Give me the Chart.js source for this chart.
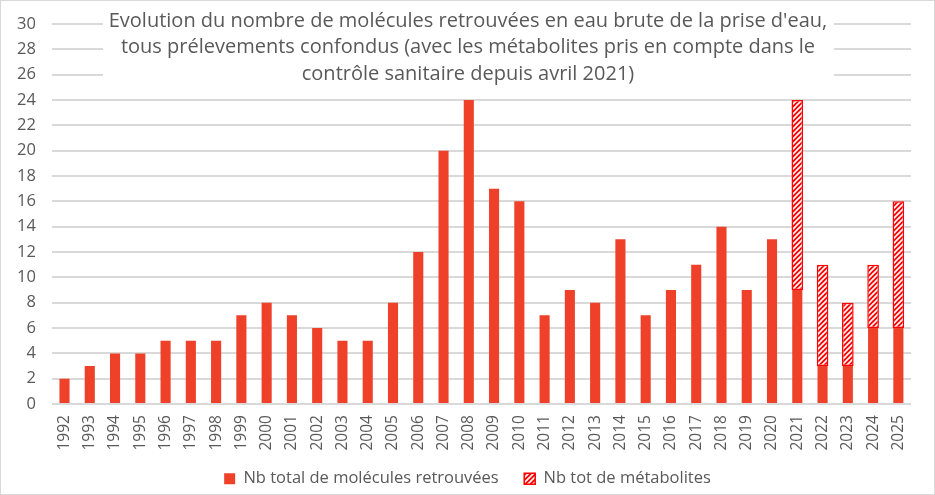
<!DOCTYPE html>
<html>
<head>
<meta charset="utf-8">
<script src="https://cdn.jsdelivr.net/npm/chart.js@4.4.0/dist/chart.umd.min.js"></script>
<style>
  html, body { margin: 0; padding: 0; background: #fff; }
  #wrap { width: 935px; height: 495px; box-sizing: border-box; border: 1px solid #D9D9D9; position: relative; }
</style>
</head>
<body>
<div id="wrap"><canvas id="moleculesChart"></canvas></div>
<script>
const years = ['1992', '1993', '1994', '1995', '1996', '1997', '1998', '1999', '2000', '2001',
    '2002', '2003', '2004', '2005', '2006', '2007', '2008', '2009', '2010', '2011',
    '2012', '2013', '2014', '2015', '2016', '2017', '2018', '2019', '2020', '2021',
    '2022', '2023', '2024', '2025'];
const totalMolecules = [2, 3, 4, 4, 5, 5, 5, 7, 8, 7,
    6, 5, 5, 8, 12, 20, 24, 17, 16, 7,
    9, 8, 13, 7, 9, 11, 14, 9, 13, 9,
    3, 3, 6, 6];
const metabolites = [null, null, null, null, null, null, null, null, null, null,
    null, null, null, null, null, null, null, null, null, null,
    null, null, null, null, null, null, null, null, null, 15,
    8, 5, 5, 10];
const titleLines = [
    "Evolution du nombre de molécules retrouvées en eau brute de la prise d'eau,",
    "tous prélevements confondus (avec les métabolites pris en compte dans le",
    "contrôle sanitaire depuis avril 2021)"
];

const textColor = '#595959';
const fontFamily = "'Open Sans', 'Noto Sans', sans-serif";

// red hatch for the metabolites
function makeHatch() {
    const c = document.createElement('canvas');
    c.width = 5;
    c.height = 5;
    const g = c.getContext('2d');
    g.fillStyle = '#FF0000';
    g.fillRect(0, 0, 5, 5);
    g.strokeStyle = '#FFFFFF';
    g.lineWidth = 1.6;
    g.beginPath();
    g.moveTo(-1, 6); g.lineTo(6, -1);
    g.moveTo(-1, 1); g.lineTo(1, -1);
    g.moveTo(4, 6); g.lineTo(6, 4);
    g.stroke();
    return g.createPattern(c, 'repeat');
}

// title drawn over the plot on a white box, like the Excel original
const overlayTitle = {
    id: 'overlayTitle',
    afterDraw(chart) {
        const ctx = chart.ctx;
        ctx.save();
        ctx.fillStyle = '#FFFFFF';
        ctx.fillRect(102, 4, 731, 87);
        ctx.fillStyle = textColor;
        ctx.font = "20px " + fontFamily;
        ctx.textAlign = 'center';
        ctx.textBaseline = 'middle';
        titleLines.forEach((line, i) => {
            ctx.fillText(line, 467, 20 + i * 26.5);
        });
        ctx.restore();
    }
};

const ctx = document.getElementById('moleculesChart').getContext('2d');

new Chart(ctx, {
    type: 'bar',
    data: {
        labels: years,
        datasets: [{
            label: 'Nb total de molécules retrouvées',
            data: totalMolecules,
            backgroundColor: '#EF4129',
            borderWidth: 0,
            barPercentage: 0.4,
            categoryPercentage: 1.0
        }, {
            label: 'Nb tot de métabolites',
            data: metabolites,
            backgroundColor: makeHatch(),
            borderColor: '#FF0000',
            borderWidth: 1.5,
            borderSkipped: false,
            barPercentage: 0.46,
            categoryPercentage: 1.0
        }]
    },
    options: {
        responsive: true,
        maintainAspectRatio: false,
        animation: false,
        layout: {
            padding: { left: 0, right: 0, top: 23, bottom: -3 }
        },
        scales: {
            x: {
                stacked: true,
                grid: { display: false, drawTicks: false },
                border: { display: false },
                ticks: {
                    color: textColor,
                    font: { family: fontFamily, size: 15.5 },
                    minRotation: 90,
                    maxRotation: 90,
                    autoSkip: false,
                    padding: 11
                },
                // right margin kept here so the legend stays centred on the whole chart
                afterFit(scale) {
                    scale.paddingLeft = 0;
                    scale.paddingRight = 23;
                }
            },
            y: {
                stacked: true,
                min: 0,
                max: 30,
                grid: { color: '#D9D9D9', lineWidth: 2, drawTicks: false },
                border: { display: false },
                ticks: {
                    stepSize: 2,
                    color: textColor,
                    font: { family: fontFamily, size: 16.5 },
                    padding: 16
                },
                afterFit(scale) {
                    scale.paddingTop = 0;
                    scale.paddingBottom = 0;
                }
            }
        },
        plugins: {
            legend: {
                position: 'bottom',
                labels: {
                    color: textColor,
                    font: { family: fontFamily, size: 16.5 },
                    boxWidth: 11,
                    boxHeight: 11,
                    padding: 9,
                    // a bit more room between the two entries, as in the original
                    generateLabels(chart) {
                        const items = Chart.defaults.plugins.legend.labels.generateLabels(chart);
                        items[0].text += '\u2003';
                        return items;
                    }
                }
            },
            tooltip: { enabled: false }
        }
    },
    plugins: [overlayTitle]
});
</script>
</body>
</html>
